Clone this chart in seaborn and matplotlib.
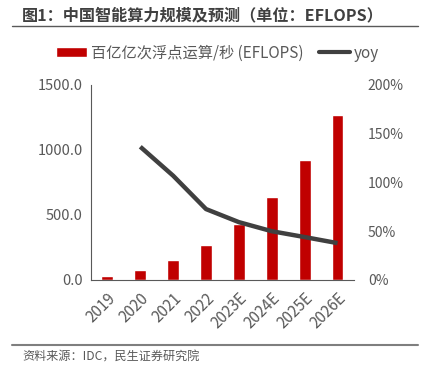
import numpy as np
import pandas as pd
import seaborn as sns
import matplotlib.pyplot as plt
from matplotlib.patches import Patch
from matplotlib.lines import Line2D
from matplotlib.ticker import PercentFormatter

# values
years = ['2019', '2020', '2021', '2022', '2023E', '2024E', '2025E', '2026E']
eflops = [31.7, 75.0, 155.2, 268.0, 427.0, 640.7, 922.8, 1271.4]
yoy_years = years[1:]
yoy = [136.6, 106.9, 72.7, 59.3, 50.0, 44.0, 37.8]

sns.set_style("white")
plt.rcParams['font.family'] = ['Noto Sans CJK SC', 'DejaVu Sans']
grey = '#595959'

df = pd.DataFrame({'year': years, 'value': eflops})
df_yoy = pd.DataFrame({'pos': [years.index(y) for y in yoy_years], 'yoy': yoy})

fig = plt.figure(figsize=(4.27, 3.66), dpi=100)
ax = fig.add_axes([0.213, 0.235, 0.616, 0.533])
sns.barplot(data=df, x='year', y='value', color='#C00000', width=0.36,
            saturation=1, ax=ax)
ax.set_ylim(0, 1500)
ax.set_yticks([0, 500, 1000, 1500])
ax.set_yticklabels([f'{v:.1f}' for v in [0, 500, 1000, 1500]])
ax.set_xlim(-0.5, 7.5)
ax.set_xlabel('')
ax.set_ylabel('')
ax.tick_params(axis='x', labelrotation=45, labelsize=11, colors=grey, length=0, pad=7)
ax.tick_params(axis='y', labelsize=10.5, colors=grey, length=0, pad=6)
for lbl in ax.get_xticklabels():
    lbl.set_ha('right')
    lbl.set_rotation_mode('anchor')
for s in ['top', 'right']:
    ax.spines[s].set_visible(False)
for s in ['left', 'bottom']:
    ax.spines[s].set_color('#595959')
    ax.spines[s].set_linewidth(0.8)

ax2 = ax.twinx()
sns.lineplot(data=df_yoy, x='pos', y='yoy', color='#404040', linewidth=3.2,
             ax=ax2, solid_capstyle='butt', solid_joinstyle='round')
ax2.set_ylim(0, 200)
ax2.set_yticks([0, 50, 100, 150, 200])
ax2.yaxis.set_major_formatter(PercentFormatter(decimals=0))
ax2.set_ylabel('')
ax2.tick_params(axis='y', labelsize=10, colors=grey, length=0, pad=10)
for s in ['top', 'right', 'left', 'bottom']:
    ax2.spines[s].set_visible(False)
ax2.set_xlim(-0.5, 7.5)

handles = [Patch(facecolor='#C00000'), Line2D([], [], color='#404040', linewidth=3)]
fig.legend(handles, ['百亿亿次浮点运算/秒 (EFLOPS)', 'yoy'], loc='center',
           bbox_to_anchor=(0.51, 0.855), ncol=2, frameon=False, fontsize=11,
           labelcolor=grey, handlelength=2.0, handleheight=0.65,
           handletextpad=0.3, columnspacing=1.0)

fig.text(0.052, 0.958, '图1：中国智能算力规模及预测（单位：EFLOPS）', fontsize=11.6,
         fontweight='bold', color='#404040', va='center')
fig.add_artist(Line2D([0.028, 0.979], [0.928, 0.928], color='#595959', linewidth=1))
fig.add_artist(Line2D([0.028, 0.979], [0.057, 0.057], color='#7f7f7f', linewidth=1.5))
fig.text(0.052, 0.025, '资料来源：IDC，民生证券研究院', fontsize=8.7, color=grey,
         va='center')

fig.savefig('out.png', dpi=100)
